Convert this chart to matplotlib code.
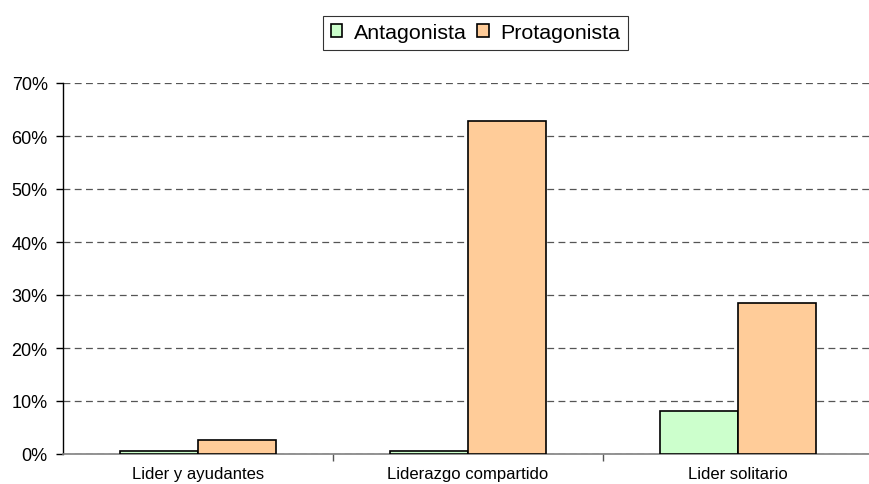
import matplotlib
matplotlib.use("Agg")
import matplotlib.pyplot as plt
import numpy as np
from matplotlib.ticker import PercentFormatter, FixedLocator

plt.rcParams['font.family'] = ['Liberation Sans', 'DejaVu Sans']

categories = ["Lider y ayudantes", "Liderazgo compartido", "Lider solitario"]
antagonista = [0.5, 0.5, 8.1]
protagonista = [2.7, 62.8, 28.5]
yticks = [0, 10, 20, 30, 40, 50, 60, 70]

W, H = 870, 485
fig = plt.figure(figsize=(W / 100, H / 100), dpi=100)
ax = fig.add_axes([63 / W, 30 / H, 810 / W, 371 / H])

x = np.arange(len(categories))
bw = 0.29
ax.bar(x - bw / 2, antagonista, bw, color="#CCFFCC", edgecolor="black", linewidth=1.2,
       label="Antagonista", zorder=3)
ax.bar(x + bw / 2, protagonista, bw, color="#FFCC99", edgecolor="black", linewidth=1.2,
       label="Protagonista", zorder=3)

ax.set_xlim(-0.5, len(categories) - 0.5)
ax.set_ylim(0, 70)
ax.set_yticks(yticks)
ax.yaxis.set_major_formatter(PercentFormatter(decimals=0))
ax.yaxis.grid(True, color="#555555", linestyle=(0, (5.5, 3.5)), linewidth=0.9, zorder=1)
ax.set_axisbelow(True)

ax.set_xticks(x)
ax.set_xticklabels(categories, fontsize=12)
ax.tick_params(axis="x", which="major", length=0, pad=9)
ax.xaxis.set_minor_locator(FixedLocator([0.5, 1.5]))
ax.tick_params(axis="x", which="minor", length=5, color="#555555", width=1)
ax.tick_params(axis="y", length=5, width=1, labelsize=13, pad=6)

for s in ["top", "right"]:
    ax.spines[s].set_visible(False)
ax.spines["left"].set_color("black")
ax.spines["left"].set_linewidth(1)
ax.spines["bottom"].set_color("#808080")
ax.spines["bottom"].set_linewidth(1.2)

leg = fig.legend(loc="upper center", bbox_to_anchor=(475.5 / W, 1 - 17 / H), ncol=2,
                 fontsize=15.4, frameon=True, fancybox=False, edgecolor="black",
                 handlelength=0.55, handleheight=0.55, handletextpad=0.55,
                 columnspacing=0.45, borderpad=0.35, borderaxespad=0)
leg.get_frame().set_linewidth(0.8)

fig.savefig("out.png", dpi=100)
